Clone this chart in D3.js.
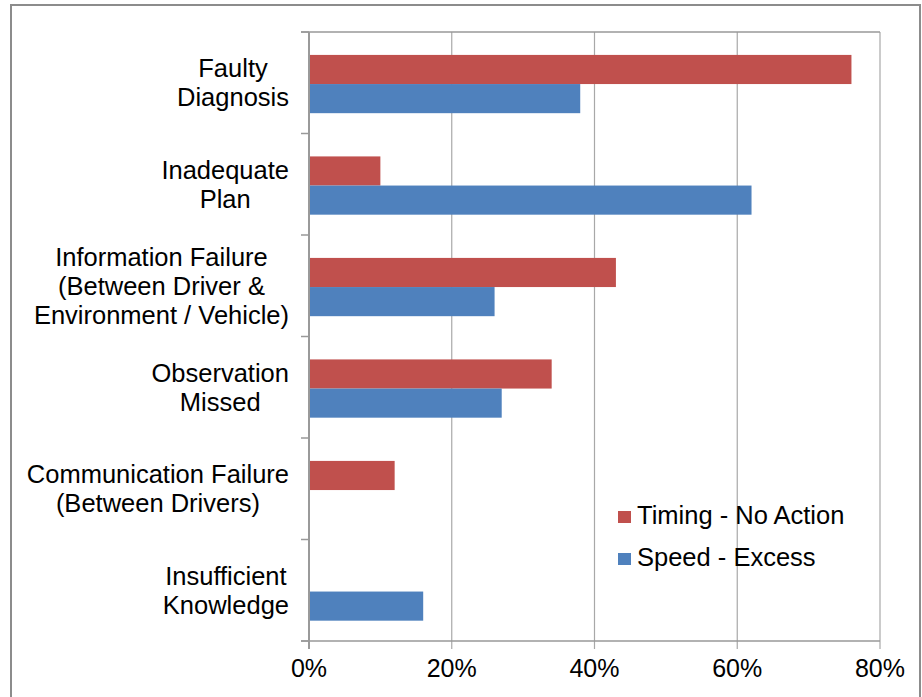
<!DOCTYPE html>
<html>
<head>
<meta charset="utf-8">
<script src="https://cdn.jsdelivr.net/npm/d3@7"></script>
<style>
  html, body { margin: 0; padding: 0; background: #fff; }
  svg { display: block; }
  text { font-family: "Liberation Sans", Arial, sans-serif; fill: #000; }
</style>
</head>
<body>
<svg id="chart" width="922" height="697"></svg>
<script>
const categoryLines = [
  ["Faulty", "Diagnosis"],
  ["Inadequate", "Plan"],
  ["Information Failure", "(Between Driver &", "Environment / Vehicle)"],
  ["Observation", "Missed"],
  ["Communication Failure", "(Between Drivers)"],
  ["Insufficient", "Knowledge"]
];
const categories = categoryLines.map(l => l.join(" "));
const seriesNames = ["Timing - No Action", "Speed - Excess"];
const timing = [76, 10, 43, 34, 12, 0];
const speed = [38, 62, 26, 27, 0, 16];
const xTicks = [0, 20, 40, 60, 80];
const colors = ["#C0504D", "#4F81BD"];

const svg = d3.select("#chart");
const plot = { left: 309, right: 880, top: 32, bottom: 641 };

// outer chart border
svg.append("rect")
  .attr("x", 11).attr("y", 5).attr("width", 909).attr("height", 700)
  .attr("fill", "none").attr("stroke", "#8c8c8c").attr("stroke-width", 2);

const x = d3.scaleLinear().domain([0, 80]).range([plot.left, plot.right]);
const y = d3.scaleBand().domain(categories).range([plot.top, plot.bottom]).paddingInner(0).paddingOuter(0);
const barH = y.bandwidth() * 0.287;
const sub = d3.scaleBand().domain(seriesNames).range([0, barH * 2]);
const groupOffset = (y.bandwidth() - barH * 2) / 2 + 1.3;

// gridlines (vertical) with tick marks below axis
const gridColor = "#a8a8a8";
svg.append("g").selectAll("line").data(xTicks).join("line")
  .attr("x1", d => x(d)).attr("x2", d => x(d))
  .attr("y1", plot.top).attr("y2", plot.bottom + 8)
  .attr("stroke", gridColor).attr("stroke-width", 1.2);

// top border line
svg.append("line")
  .attr("x1", plot.left - 8).attr("x2", plot.right)
  .attr("y1", plot.top).attr("y2", plot.top)
  .attr("stroke", "#999").attr("stroke-width", 1.5);

// bars
const data = categories.map((c, i) => ({ c, vals: [timing[i], speed[i]] }));
const groups = svg.append("g").selectAll("g").data(data).join("g")
  .attr("transform", d => `translate(0,${y(d.c) + groupOffset})`);
groups.selectAll("rect").data(d => d.vals.map((v, j) => ({ v, s: seriesNames[j], j })))
  .join("rect")
  .filter(d => d.v > 0)
  .attr("x", x(0))
  .attr("y", d => sub(d.s))
  .attr("width", d => x(d.v) - x(0))
  .attr("height", sub.bandwidth())
  .attr("fill", d => colors[d.j]);

// bottom axis line
svg.append("line")
  .attr("x1", plot.left - 8).attr("x2", plot.right)
  .attr("y1", plot.bottom).attr("y2", plot.bottom)
  .attr("stroke", "#999").attr("stroke-width", 1.5);

// left axis line + category ticks
svg.append("line")
  .attr("x1", plot.left).attr("x2", plot.left)
  .attr("y1", plot.top).attr("y2", plot.bottom + 8)
  .attr("stroke", "#9a9a9a").attr("stroke-width", 2);
const boundaries = categories.map(c => y(c)).concat([plot.bottom]);
svg.append("g").selectAll("line").data(boundaries).join("line")
  .attr("x1", plot.left - 8).attr("x2", plot.left)
  .attr("y1", d => d).attr("y2", d => d)
  .attr("stroke", "#999").attr("stroke-width", 1.5);

// x tick labels
svg.append("g").selectAll("text").data(xTicks).join("text")
  .attr("x", d => x(d)).attr("y", 677)
  .attr("text-anchor", "middle")
  .style("font-size", "25px")
  .text(d => d + "%");

// category labels (lines centered, block right-aligned)
const lineH = 29;
categoryLines.forEach((lines, i) => {
  const cy = y(categories[i]) + y.bandwidth() / 2;
  const g = svg.append("g");
  const texts = lines.map((ln, k) => g.append("text")
    .attr("y", cy + (k - (lines.length - 1) / 2) * lineH + 9)
    .attr("text-anchor", "middle")
    .style("font-size", "25.5px")
    .text(ln));
  const maxW = d3.max(texts, t => t.node().getComputedTextLength());
  texts.forEach(t => t.attr("x", 289 - maxW / 2));
});

// legend
const legend = svg.append("g");
seriesNames.forEach((s, i) => {
  const ly = 524 + i * 42;
  legend.append("rect")
    .attr("x", 618).attr("y", ly - 13).attr("width", 13).attr("height", 12)
    .attr("fill", colors[i]);
  legend.append("text")
    .attr("x", 637).attr("y", ly)
    .style("font-size", "25.5px")
    .text(s);
});
</script>
</body>
</html>
